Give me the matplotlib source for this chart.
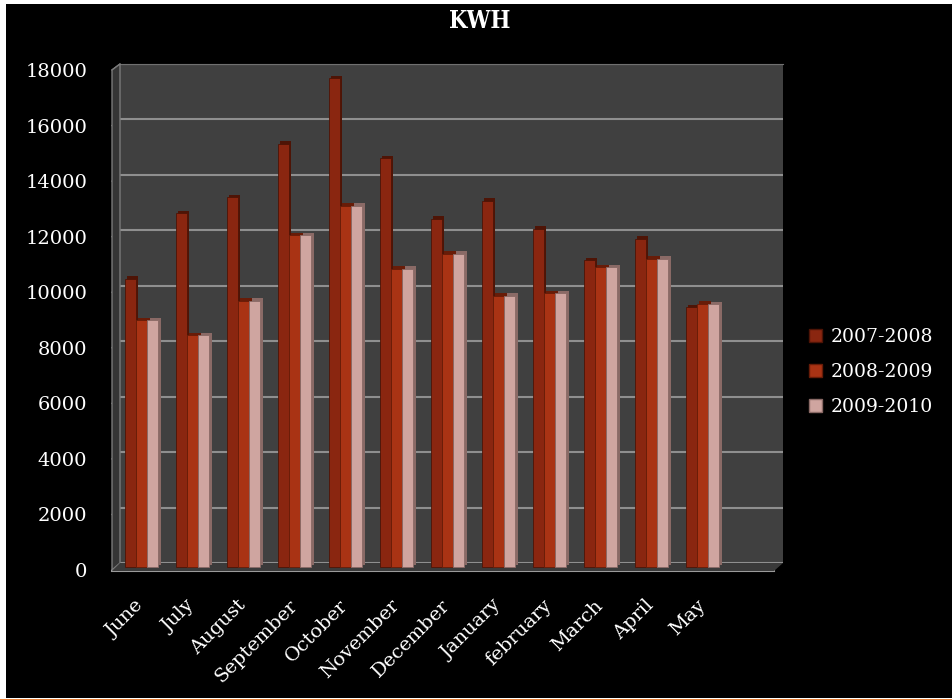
import numpy as np
import matplotlib.pyplot as plt
from matplotlib.patches import Rectangle, Polygon, Patch
from matplotlib.transforms import ScaledTranslation

# monthly energy use (KWH), June..May
months = ['June', 'July', 'August', 'September', 'October', 'November',
          'December', 'January', 'february', 'March', 'April', 'May']
kwh_2007 = [10370, 12740, 13320, 15230, 17600, 14720,
            12530, 13180, 12170, 11050, 11810, 9360]
kwh_2008 = [8890, 8350, 9580, 11950, 13000, 10730,
            11270, 9760, 9860, 10800, 11090, 9470]
kwh_2009 = [8890, 8350, 9580, 11950, 13000, 10730,
            11270, 9760, 9860, 10800, 11090, 9460]
series = ['2007-2008', '2008-2009', '2009-2010']
y_ticks = np.arange(0, 18001, 2000)

face = ['#8a2610', '#a93314', '#cfa5a0']
side = ['#4e1406', '#681c08', '#8a6a66']

W, H = 952, 700
fig = plt.figure(figsize=(W / 100, H / 100), dpi=100, facecolor='white')


def px(x, y):
    return (x / W, 1 - y / H)


def rect(x0, y0, x1, y1):
    return [x0 / W, 1 - y1 / H, (x1 - x0) / W, (y1 - y0) / H]


# black chart area and thin orange bottom line
fig.patches.append(Rectangle(px(6, 698), 946 / W, 694 / H, transform=fig.transFigure,
                             facecolor='black', edgecolor='none', zorder=-5))
fig.patches.append(Rectangle((0, 0), 1, 1.5 / H, transform=fig.transFigure,
                             facecolor='#e8823a', edgecolor='none', zorder=-4))

# back wall
back = fig.add_axes(rect(120, 64, 783, 563), zorder=0)
back.set_facecolor('#404040')
back.set_xlim(-0.5, 12.5)
back.set_ylim(0, 18000)
back.set_yticks(y_ticks)
back.set_xticks([])
back.tick_params(left=False, labelleft=False)
back.yaxis.grid(True, color='#8f8f8f', linewidth=1.5)
for s in back.spines.values():
    s.set_visible(False)
back.spines['top'].set_visible(True)
back.spines['top'].set_color('#707070')

# left wall and floor
fig.patches.append(Polygon([px(112, 570), px(120, 563), px(120, 64), px(112, 70)],
                           closed=True, transform=fig.transFigure, facecolor='#353535',
                           edgecolor='#7a7a7a', linewidth=1, zorder=1))
for t in y_ticks:
    yb = 563 - t / 18000 * (563 - 64)
    yf = 570 - t / 18000 * (570 - 70)
    fig.lines.append(plt.Line2D([112 / W, 120 / W], [1 - yf / H, 1 - yb / H],
                                transform=fig.transFigure, color='#8a8a8a',
                                linewidth=1, zorder=1))
fig.patches.append(Polygon([px(112, 571), px(774, 571), px(783, 563), px(120, 563)],
                           closed=True, transform=fig.transFigure, facecolor='#3a3a3a',
                           edgecolor='none', zorder=1))
fig.lines.append(plt.Line2D([112 / W, 774 / W], [1 - 571 / H, 1 - 571 / H],
                            transform=fig.transFigure, color='#9a9a9a',
                            linewidth=1.5, zorder=1))

# front plane with the bars and labels
ax = fig.add_axes(rect(112, 70, 775, 570), zorder=2)
ax.set_facecolor('none')
ax.set_xlim(-0.5, 12.5)
ax.set_ylim(0, 18000)
for s in ax.spines.values():
    s.set_visible(False)

x = np.arange(len(months))
bw = 0.22
mid = ScaledTranslation(4 / 100, 3 / 100, fig.dpi_scale_trans)
depth = ScaledTranslation(6.5 / 100, 5.5 / 100, fig.dpi_scale_trans)
for i, vals in enumerate([kwh_2007, kwh_2008, kwh_2009]):
    xs = x + (i - 1) * bw
    back_bars = ax.bar(xs, vals, width=bw, color=side[i], linewidth=0)
    for b in back_bars:
        b.set_transform(ax.transData + depth)
    bars = ax.bar(xs, vals, width=bw, color=face[i], edgecolor=side[i], linewidth=0.6)
    for b in bars:
        b.set_transform(ax.transData + mid)

ax.set_yticks(y_ticks)
ax.set_yticklabels([str(t) for t in y_ticks])
ax.set_xticks(x - 0.05)
ax.set_xticklabels(months, rotation=45, ha='right', va='top', rotation_mode='anchor')
ax.tick_params(axis='y', length=0, pad=18, labelcolor='white', labelsize=14)
ax.tick_params(axis='x', length=0, pad=19, labelcolor='white', labelsize=14)
for lab in ax.get_xticklabels() + ax.get_yticklabels():
    lab.set_family('DejaVu Serif')

fig.text(480 / W, 1 - 21 / H, 'KWH', color='white', fontsize=17, fontweight='bold',
         family='DejaVu Serif', fontstretch='condensed', ha='center', va='center')

handles = [Patch(facecolor=face[i], edgecolor=side[i], linewidth=1) for i in range(3)]
leg = fig.legend(handles, series, loc='center left', bbox_to_anchor=(809 / W, 1 - 372 / H),
                 frameon=False, borderpad=0, borderaxespad=0,
                 handlelength=0.7, handleheight=0.7, handletextpad=0.45,
                 labelspacing=0.9, prop={'family': 'DejaVu Serif', 'size': 13.5})
for t in leg.get_texts():
    t.set_color('white')

fig.savefig('out.png', dpi=100, facecolor=fig.get_facecolor())
